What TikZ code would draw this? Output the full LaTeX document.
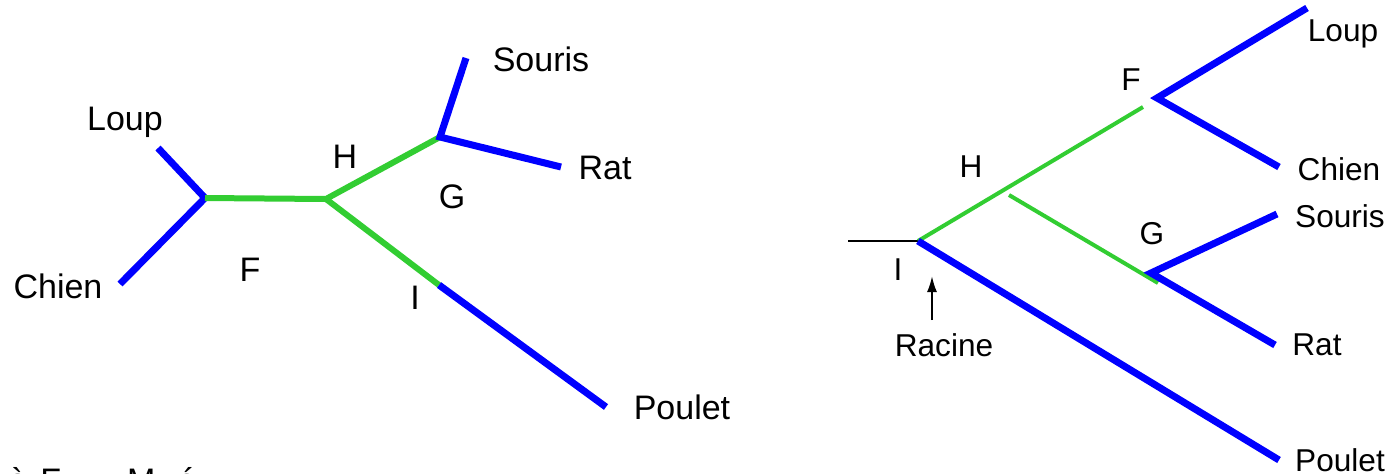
\documentclass[tikz,border=0pt]{standalone}
\usepackage{fontspec}
\setmainfont{Liberation Sans}
\usetikzlibrary{arrows.meta}
\definecolor{tblue}{RGB}{0,0,255}
\definecolor{tgreen}{RGB}{50,205,50}
\begin{document}
\begin{tikzpicture}[x=0.5pt,y=-0.5pt,
  blueline/.style={draw=tblue,line width=3.5pt},
  greenline/.style={draw=tgreen,line width=3pt},
  greenthin/.style={draw=tgreen,line width=2pt},
  lbl/.style={font=\fontsize{17}{20}\selectfont,inner sep=0pt},
  rlbl/.style={font=\fontsize{15.8}{19}\selectfont,inner sep=0pt}]
\useasboundingbox (0,0) rectangle (1388,473);
\clip (0,0) rectangle (1388,473);
% ---------------- left tree ----------------
\coordinate (lF) at (205,198);
\coordinate (lH) at (326,199);
\coordinate (lG) at (440,137);
\coordinate (lI) at (439,285);
\coordinate (lLoupE) at (158,148);
\coordinate (lChienE) at (120,284);
\coordinate (lSourisE) at (466,58);
\coordinate (lRatE) at (561,167);
\coordinate (lPouletE) at (606,407);
\draw[blueline] (lLoupE) -- (lF) -- (lChienE);
\draw[greenline] (lF) -- (lH);
\draw[greenline] (lH) -- (lG);
\draw[greenline] (lH) -- (lI);
\draw[blueline] (lSourisE) -- (lG) -- (lRatE);
\draw[blueline] (lI) -- (lPouletE);
\node[lbl] (tLoup) at (125,122) {Loup};
\node[lbl] (tChien) at (58,286) {Chien};
\node[lbl] (tSouris) at (541,59) {Souris};
\node[lbl] (tRat) at (605,168) {Rat};
\node[lbl] (tPoulet) at (682,407) {Poulet};
\node[lbl] (tH) at (345,157) {H};
\node[lbl] (tG) at (452,197) {G};
\node[lbl] (tF) at (250,270) {F};
\node[lbl] (tI) at (415,298) {I};
% ---------------- right tree ----------------
\coordinate (rRootE) at (848,241);
\coordinate (rI) at (918,241);
\coordinate (rFg) at (1143,107);
\coordinate (rF) at (1157,98);
\coordinate (rHb) at (1009,195);
\coordinate (rGg) at (1158,283);
\coordinate (rG) at (1151,273);
\coordinate (rLoupE) at (1307,8);
\coordinate (rChienE) at (1279,167);
\coordinate (rSourisE) at (1277,214);
\coordinate (rRatE) at (1275,345);
\coordinate (rPouletE) at (1279,460);
\coordinate (arrS) at (932,320);
\coordinate (arrT) at (932,276);
\draw[black,line width=1pt] (rRootE) -- (rI);
\draw[greenthin] (rI) -- (rFg);
\draw[greenthin] (rHb) -- (rGg);
\draw[blueline] (rLoupE) -- (rF) -- (rChienE);
\draw[blueline] (rSourisE) -- (rG) -- (rRatE);
\draw[blueline] (rI) -- (rPouletE);
\draw[black,line width=1pt,-{Latex[length=8pt,width=5pt]}] (arrS) -- (arrT);
\node[rlbl] (rtLoup) at (1343,34) {Loup};
\node[rlbl] (rtChien) at (1339,169) {Chien};
\node[rlbl] (rtSouris) at (1340,216) {Souris};
\node[rlbl] (rtRat) at (1317,345) {Rat};
\node[rlbl] (rtPoulet) at (1340,460) {Poulet};
\node[rlbl] (rtF) at (1131,80) {F};
\node[rlbl] (rtH) at (971,167) {H};
\node[rlbl] (rtG) at (1152,234) {G};
\node[rlbl] (rtI) at (898,270) {I};
\node[rlbl] (rtRacine) at (944,345) {Racine};
% ---------------- cut-off caption ----------------
\node[lbl,anchor=base west] (caption) at (8,492) {à\hspace{6.5pt}F\hspace{33pt}M\hspace{11pt}é};
\end{tikzpicture}
\end{document}
